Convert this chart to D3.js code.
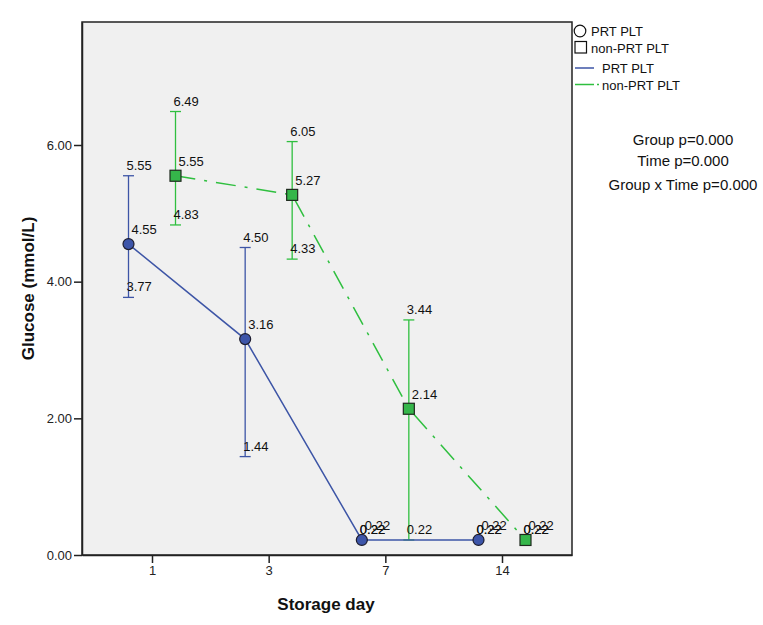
<!DOCTYPE html>
<html><head><meta charset="utf-8">
<script src="https://cdn.jsdelivr.net/npm/d3@7"></script>
<style>body{margin:0;background:#fff;} svg{display:block;font-family:"Liberation Sans",Arial,sans-serif;}</style>
</head><body><svg id="c" width="763" height="625"></svg>
<script>
const days = ["1","3","7","14"];
const groups = ["PRT PLT","non-PRT PLT"];
const prtMean = [4.55, 3.16, 0.22, 0.22];
const prtUpper = [5.55, 4.50, 0.22, 0.22];
const prtLower = [3.77, 1.44, 0.22, 0.22];
const nonMean = [5.55, 5.27, 2.14, 0.22];
const nonUpper = [6.49, 6.05, 3.44, 0.22];
const nonLower = [4.83, 4.33, 0.22, 0.22];
const yTicks = [0, 2, 4, 6];
const stats = ["Group p=0.000", "Time p=0.000", "Group x Time p=0.000"];

const svg = d3.select("#c");
const L = 82, R = 572, T = 22, B = 555;
const x = d3.scalePoint().domain(days).range([L, R]).padding(0.6);
const off = d3.scalePoint().domain(groups).range([-23.5, 23.5]);
const y = d3.scaleLinear().domain([0, 7.8]).range([B, T]);

svg.append("rect").attr("x", L).attr("y", T).attr("width", R - L).attr("height", B - T)
  .attr("fill", "#f0f0f0").attr("stroke", "#222").attr("stroke-width", 1.5);

const yAx = svg.append("g").attr("transform", `translate(${L},0)`)
  .call(d3.axisLeft(y).tickValues(yTicks).tickFormat(d3.format(".2f")).tickSize(8).tickSizeOuter(0).tickPadding(2));
const xAx = svg.append("g").attr("transform", `translate(0,${B})`)
  .call(d3.axisBottom(x).tickSize(8).tickSizeOuter(0).tickPadding(3));
[yAx, xAx].forEach(a => {
  a.select(".domain").attr("stroke", "#222").attr("stroke-width", 1.5);
  a.selectAll(".tick line").attr("stroke", "#222").attr("stroke-width", 1.5);
  a.selectAll(".tick text").attr("fill", "#222").style("font-size", "13px").style("font-family", '"Liberation Sans",Arial,sans-serif');
});

svg.append("text").attr("x", (L + R) / 2 - 1).attr("y", 610).attr("text-anchor", "middle")
  .style("font-size", "17px").style("font-weight", "bold").attr("fill", "#111").text("Storage day");
svg.append("text").attr("transform", `translate(34,${(T + B) / 2}) rotate(-90)`).attr("text-anchor", "middle")
  .style("font-size", "17px").style("font-weight", "bold").attr("fill", "#111").text("Glucose (mmol/L)");

const series = [
  {g: groups[0], mean: prtMean, up: prtUpper, lo: prtLower, line: "#3d55a6", fill: "#3d55a9", dash: null, shape: "circle"},
  {g: groups[1], mean: nonMean, up: nonUpper, lo: nonLower, line: "#2fbf3f", fill: "#35b64a", dash: "20,9,3,9", shape: "square"}
];
const px = (s, i) => x(days[i]) + off(s.g);

// error bars (green first, blue on top)
[series[1], series[0]].forEach(s => {
  const g = svg.append("g").attr("stroke", s.line).attr("stroke-width", 1.3);
  days.forEach((d, i) => {
    const cx = px(s, i);
    g.append("line").attr("x1", cx).attr("x2", cx).attr("y1", y(s.lo[i])).attr("y2", y(s.up[i]));
    [s.lo[i], s.up[i]].forEach(v => g.append("line").attr("x1", cx - 5.5).attr("x2", cx + 5.5).attr("y1", y(v)).attr("y2", y(v)));
  });
});

// lines
[series[1], series[0]].forEach(s => {
  const line = d3.line().x((v, i) => px(s, i)).y(v => y(v));
  svg.append("path").datum(s.mean).attr("d", line).attr("fill", "none").attr("stroke", s.line)
    .attr("stroke-width", 1.5).attr("stroke-dasharray", s.dash);
});

// markers
series.forEach(s => {
  days.forEach((d, i) => {
    const cx = px(s, i), cy = y(s.mean[i]);
    if (s.shape === "circle") svg.append("circle").attr("cx", cx).attr("cy", cy).attr("r", 5.5)
      .attr("fill", s.fill).attr("stroke", "#1d1d2e").attr("stroke-width", 1.2);
    else svg.append("rect").attr("x", cx - 5.5).attr("y", cy - 5.5).attr("width", 11).attr("height", 11)
      .attr("fill", s.fill).attr("stroke", "#1e2a1e").attr("stroke-width", 1.2);
  });
});

// labels
const fmt = d3.format(".2f");
series.forEach(s => {
  days.forEach((d, i) => {
    const cx = px(s, i);
    [[s.up[i], -2, -6], [s.lo[i], -2, -6], [s.mean[i], 3, -10]].forEach(([v, dx, dy]) => {
      svg.append("text").attr("x", cx + dx).attr("y", y(v) + dy).style("font-size", "13px")
        .attr("fill", "#111").text(fmt(v));
    });
  });
});

// legend
const lg = svg.append("g");
lg.append("circle").attr("cx", 580).attr("cy", 31).attr("r", 5.8).attr("fill", "none").attr("stroke", "#111").attr("stroke-width", 1.2);
lg.append("rect").attr("x", 575).attr("y", 41.5).attr("width", 11.5).attr("height", 11.5).attr("fill", "none").attr("stroke", "#111").attr("stroke-width", 1.2);
lg.append("text").attr("x", 591).attr("y", 35.5).style("font-size", "13px").attr("fill", "#111").text(groups[0]);
lg.append("text").attr("x", 591).attr("y", 52.5).style("font-size", "13px").attr("fill", "#111").text(groups[1]);
series.forEach((s, k) => {
  const yy = 68 + k * 16.5;
  lg.append("line").attr("x1", 575).attr("x2", 594).attr("y1", yy).attr("y2", yy).attr("stroke", s.line).attr("stroke-width", 1.5);
  if (k === 1) lg.append("line").attr("x1", 597).attr("x2", 599).attr("y1", yy).attr("y2", yy).attr("stroke", s.line).attr("stroke-width", 1.5);
  lg.append("text").attr("x", 602).attr("y", yy + 5).style("font-size", "13px").attr("fill", "#111").text(s.g);
});

// stats text
stats.forEach((t, i) => {
  svg.append("text").attr("x", 683).attr("y", [145, 166, 190][i]).attr("text-anchor", "middle")
    .style("font-size", "15px").attr("fill", "#111").text(t);
});
</script></body></html>
